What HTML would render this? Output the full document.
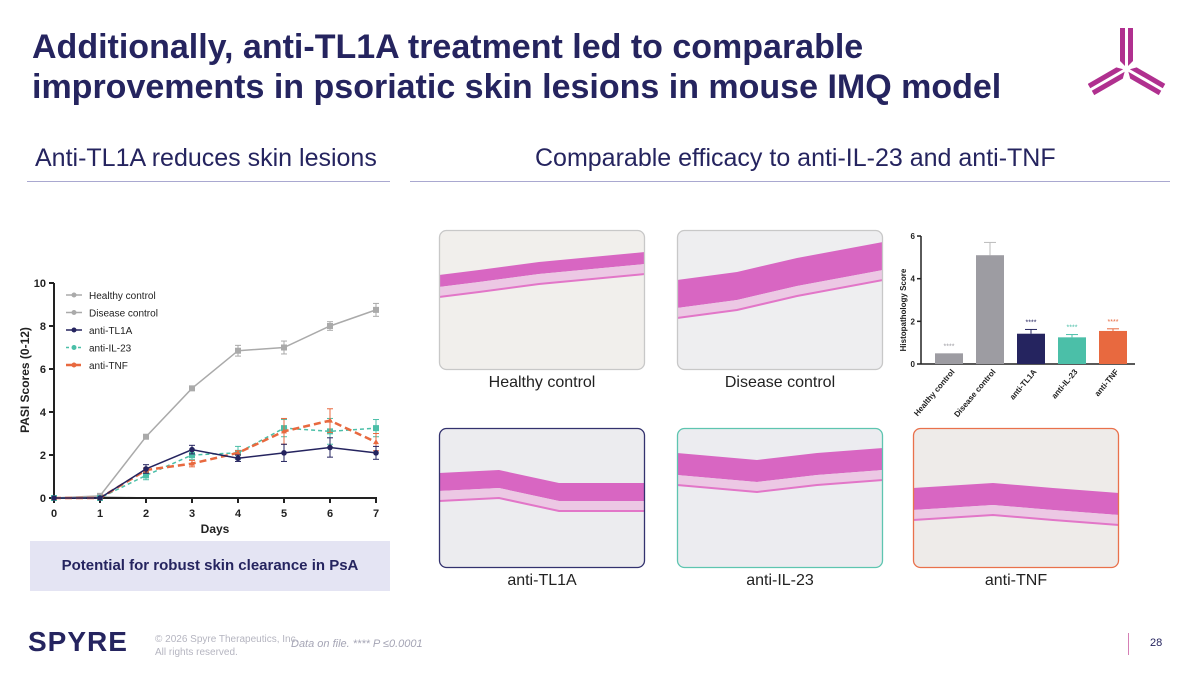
<!DOCTYPE html>
<html><head><meta charset="utf-8">
<style>
body{margin:0;background:#fff;}
#root{position:relative;width:1200px;height:675px;overflow:hidden;font-family:"Liberation Sans",sans-serif;background:#fff;}
.t{position:absolute;white-space:nowrap;}
</style></head>
<body>
<div id="root">
<div class="t" style="left:32px;top:27px;font-size:34px;font-weight:bold;color:#25245f;line-height:40px;">Additionally, anti-TL1A treatment led to comparable<br>improvements in psoriatic skin lesions in mouse IMQ model</div>
<div class="t" style="left:35px;top:144px;font-size:25px;color:#25245f;">Anti-TL1A reduces skin lesions</div>
<div class="t" style="left:535px;top:144px;font-size:25px;color:#25245f;">Comparable efficacy to anti-IL-23 and anti-TNF</div>
<div style="position:absolute;left:27px;top:181px;width:363px;height:1px;background:#a9a8d0;"></div>
<div style="position:absolute;left:410px;top:181px;width:760px;height:1px;background:#a9a8d0;"></div>

<svg style="position:absolute;left:1088px;top:22px" width="80" height="75" viewBox="0 0 80 75">
<g fill="#b0308f">
<polygon points="32,6 37,6 37,44 32,39"/><polygon points="40,6 45,6 45,39 40,44"/>
<g transform="rotate(120 38.5 47)"><polygon points="32,6 37,6 37,44 32,39"/><polygon points="40,6 45,6 45,39 40,44"/></g>
<g transform="rotate(240 38.5 47)"><polygon points="32,6 37,6 37,44 32,39"/><polygon points="40,6 45,6 45,39 40,44"/></g>
</g></svg>

<svg id="line" style="position:absolute;left:0;top:270px" width="400" height="275"></svg>

<div style="position:absolute;left:30px;top:541px;width:360px;height:50px;background:#e4e4f3;"></div>
<div class="t" style="left:30px;top:557px;width:360px;text-align:center;font-size:15px;font-weight:bold;color:#25245f;">Potential for robust skin clearance in PsA</div>

<svg id="imgs" style="position:absolute;left:0;top:0" width="1200" height="675"></svg>
<div class="t" style="left:439px;top:374px;width:206px;text-align:center;font-size:16px;color:#222;">Healthy control</div>
<div class="t" style="left:677px;top:374px;width:206px;text-align:center;font-size:16px;color:#222;">Disease control</div>
<div class="t" style="left:439px;top:572px;width:206px;text-align:center;font-size:16px;color:#222;">anti-TL1A</div>
<div class="t" style="left:677px;top:572px;width:206px;text-align:center;font-size:16px;color:#222;">anti-IL-23</div>
<div class="t" style="left:913px;top:572px;width:206px;text-align:center;font-size:16px;color:#222;">anti-TNF</div>

<svg id="bar" style="position:absolute;left:880px;top:220px" width="300" height="210"></svg>

<div class="t" style="left:28px;top:626px;font-size:28px;font-weight:bold;color:#25245f;letter-spacing:1px;">SPYRE</div>
<div class="t" style="left:155px;top:633px;font-size:10px;color:#b5b5c0;line-height:13px;">© 2026 Spyre Therapeutics, Inc.<br>All rights reserved.</div>
<div class="t" style="left:291px;top:638px;font-size:11px;color:#a5a5b5;font-style:italic;">Data on file. **** P ≤0.0001</div>
<div style="position:absolute;left:1128px;top:633px;width:1px;height:22px;background:#d57fb5;"></div>
<div class="t" style="left:1150px;top:637px;font-size:11px;color:#25245f;">28</div>
</div>

<script>
const NS="http://www.w3.org/2000/svg";
function mk(p,tag,a){const e=document.createElementNS(NS,tag);for(const k in a)e.setAttribute(k,a[k]);p.appendChild(e);return e;}

/* ---------- line chart data ---------- */
const days=[0,1,2,3,4,5,6,7];
const yTicks=[0,2,4,6,8,10];
const healthy=[0,0.05,0,0,0,0,0,0];
const disease=[0,0.1,2.85,5.1,6.85,7.0,8.0,8.75];
const diseaseErr=[0,0.05,0.1,0.1,0.25,0.3,0.2,0.3];
const tl1a=[0,0,1.35,2.25,1.85,2.1,2.35,2.1];
const tl1aErr=[0,0,0.2,0.2,0.15,0.4,0.45,0.3];
const il23=[0,0,1.05,2.0,2.1,3.25,3.1,3.25];
const il23Err=[0,0,0.2,0.2,0.3,0.4,0.6,0.4];
const tnf=[0,0,1.3,1.6,2.1,3.1,3.6,2.6];
const tnfErr=[0,0,0.1,0.15,0.1,0.6,0.55,0.4];

const L=document.getElementById('line');
const lx=d=>54+d*46, ly=v=>228-v*21.5;
let e;
function series(vals,errs,col,dash,w,shape,name,markers){
 const g=mk(L,'g',{});
 
 if(errs)vals.forEach((v,i)=>{if(errs[i]>0){
  mk(g,'line',{x1:lx(days[i]),x2:lx(days[i]),y1:ly(v-errs[i]),y2:ly(v+errs[i]),stroke:col,'stroke-width':1});
  mk(g,'line',{x1:lx(days[i])-3,x2:lx(days[i])+3,y1:ly(v+errs[i]),y2:ly(v+errs[i]),stroke:col,'stroke-width':1});
  mk(g,'line',{x1:lx(days[i])-3,x2:lx(days[i])+3,y1:ly(v-errs[i]),y2:ly(v-errs[i]),stroke:col,'stroke-width':1});}});
 mk(g,'polyline',{points:vals.map((v,i)=>lx(days[i])+','+ly(v)).join(' '),fill:'none',stroke:col,'stroke-width':w,'stroke-dasharray':dash||'none'});
 if(markers)vals.forEach((v,i)=>{
  if(shape==='sq')mk(g,'rect',{x:lx(days[i])-3,y:ly(v)-3,width:6,height:6,fill:col});
  else if(shape==='tri')mk(g,'polygon',{points:`${lx(days[i])},${ly(v)-3} ${lx(days[i])-3},${ly(v)+2} ${lx(days[i])+3},${ly(v)+2}`,fill:col});
  else mk(g,'circle',{cx:lx(days[i]),cy:ly(v),r:2.8,fill:col});
 });
}
series(healthy,null,'#aaa',null,1.5,'c','series-healthy-control',false);

e=mk(L,'line',{x1:54,y1:ly(0),x2:54,y2:ly(10),stroke:'#222','stroke-width':2});

e=mk(L,'line',{x1:54,y1:ly(0),x2:377,y2:ly(0),stroke:'#222','stroke-width':2});

yTicks.forEach(t=>{
 mk(L,'line',{x1:49,x2:54,y1:ly(t),y2:ly(t),stroke:'#222','stroke-width':2});
 e=mk(L,'text',{x:46,y:ly(t)+4,'text-anchor':'end','font-size':11,'font-weight':'bold',fill:'#222'});e.textContent=t;
 
});
days.forEach(d=>{
 mk(L,'line',{x1:lx(d),x2:lx(d),y1:ly(0),y2:ly(0)+5,stroke:'#222','stroke-width':2});
 e=mk(L,'text',{x:lx(d),y:ly(0)+19,'text-anchor':'middle','font-size':11,'font-weight':'bold',fill:'#222'});e.textContent=d;
 
});
e=mk(L,'text',{x:215,y:263,'text-anchor':'middle','font-size':12,'font-weight':'bold',fill:'#222'});e.textContent='Days';

e=mk(L,'text',{x:0,y:0,transform:'translate(29,110) rotate(-90)','text-anchor':'middle','font-size':12,'font-weight':'bold',fill:'#222'});e.textContent='PASI Scores (0-12)';


series(disease,diseaseErr,'#aaa',null,1.5,'sq','series-disease-control',true);
series(il23,il23Err,'#4bbfa8','4,3',1.5,'sq','series-anti-il23',true);
series(tnf,tnfErr,'#e8693f','7,4',2.5,'tri','series-anti-tnf',true);
series(tl1a,tl1aErr,'#25245f',null,1.5,'c','series-anti-tl1a',true);

const legNames=['Healthy control','Disease control','anti-TL1A','anti-IL-23','anti-TNF'];
const legCols=['#aaa','#aaa','#25245f','#4bbfa8','#e8693f'];
const legDash=['none','none','none','3,3','6,3'];
legNames.forEach((n,i)=>{
 const y=25+i*17.5;const g=mk(L,'g',{});
 
 mk(g,'line',{x1:66,x2:82,y1:y,y2:y,stroke:legCols[i],'stroke-width':i==4?2.5:1.5,'stroke-dasharray':legDash[i]});
 mk(g,'circle',{cx:74,cy:y,r:2.5,fill:legCols[i]});
 const t=mk(g,'text',{x:89,y:y+4,'font-size':10,fill:'#222'});t.textContent=n;
});

/* ---------- histology images ---------- */
const I=document.getElementById('imgs');
const panels=[[439,230,'#c8c8c8','#f1efec',[[0,45],[40,40],[100,32],[206,22]],12,'image-healthy-control'],
 [677,230,'#c8c8c8','#eeeef0',[[0,50],[60,42],[120,28],[206,12]],28,'image-disease-control'],
 [439,428,'#33326e','#ececef',[[0,45],[60,42],[120,55],[206,55]],18,'image-anti-tl1a'],
 [677,428,'#5ec5b0','#ececf0',[[0,25],[80,32],[140,25],[206,20]],22,'image-anti-il23'],
 [913,428,'#e9714c','#eeebe9',[[0,60],[80,55],[140,60],[206,65]],22,'image-anti-tnf']];
panels.forEach((p,k)=>{
 const [x,y,b,bg,pts,th,name]=p;const g=mk(I,'g',{transform:`translate(${x},${y})`});
 
 const cp=mk(g,'clipPath',{id:'cp'+k});mk(cp,'rect',{x:0,y:0,width:206,height:140,rx:7});
 mk(g,'rect',{x:0.5,y:0.5,width:205,height:139,rx:7,fill:bg});
 const inner=mk(g,'g',{'clip-path':`url(#cp${k})`});
 const top=pts.map(q=>q[0]+','+q[1]).join(' ');
 const bot=pts.slice().reverse().map(q=>q[0]+','+(q[1]+th)).join(' ');
 mk(inner,'polygon',{points:top+' '+bot,fill:'#d866c2'});
 const low=pts.map(q=>q[0]+','+(q[1]+th)).join(' ');
 const low2=pts.slice().reverse().map(q=>q[0]+','+(q[1]+th+10)).join(' ');
 mk(inner,'polygon',{points:low+' '+low2,fill:'#ecc8e4'});
 mk(inner,'polyline',{points:pts.map(q=>q[0]+','+(q[1]+th+10)).join(' '),fill:'none',stroke:'#e276c8','stroke-width':2});
 mk(g,'rect',{x:0.5,y:0.5,width:205,height:139,rx:7,fill:'none',stroke:b,'stroke-width':1.3});
});

/* ---------- bar chart ---------- */
const groups=['Healthy control','Disease control','anti-TL1A','anti-IL-23','anti-TNF'];
const scores=[0.5,5.1,1.42,1.25,1.55];
const scoreErr=[0,0.6,0.2,0.13,0.1];
const sig=['****','','****','****','****'];
const barTicks=[0,2,4,6];
const barCols=['#9d9ca2','#9d9ca2','#25245f','#4bbfa8','#e8693f'];
const B=document.getElementById('bar');
const bx=i=>69+i*41, by=v=>144-v*21.33;
e=mk(B,'line',{x1:41,x2:41,y1:by(0),y2:by(6),stroke:'#222','stroke-width':1.5});

e=mk(B,'line',{x1:41,x2:255,y1:by(0),y2:by(0),stroke:'#222','stroke-width':1.5});

barTicks.forEach(t=>{mk(B,'line',{x1:37,x2:41,y1:by(t),y2:by(t),stroke:'#222','stroke-width':1.5});
 e=mk(B,'text',{x:35,y:by(t)+3,'text-anchor':'end','font-size':8,'font-weight':'bold',fill:'#222'});e.textContent=t;
 });
e=mk(B,'text',{transform:'translate(26,90) rotate(-90)','text-anchor':'middle','font-size':8,'font-weight':'bold',fill:'#222'});e.textContent='Histopathology Score';

groups.forEach((gname,i)=>{
 const c=bx(i);
 if(scoreErr[i]>0){mk(B,'line',{x1:c,x2:c,y1:by(scores[i]),y2:by(scores[i]+scoreErr[i]),stroke:barCols[i]==='#9d9ca2'?'#bbb':barCols[i],'stroke-width':1});
  mk(B,'line',{x1:c-6,x2:c+6,y1:by(scores[i]+scoreErr[i]),y2:by(scores[i]+scoreErr[i]),stroke:barCols[i]==='#9d9ca2'?'#bbb':barCols[i],'stroke-width':1});}
 e=mk(B,'rect',{x:c-14,y:by(scores[i]),width:28,height:by(0)-by(scores[i]),fill:barCols[i]});
 
 if(sig[i]){e=mk(B,'text',{x:c,y:by(scores[i]+scoreErr[i])-5,'text-anchor':'middle','font-size':7,fill:barCols[i]});e.textContent=sig[i];
  }
 e=mk(B,'text',{transform:`translate(${c+6},${by(0)+8}) rotate(-50)`,'text-anchor':'end','font-size':8,'font-weight':'bold',fill:'#222'});e.textContent=gname;
 
});
</script>
</body></html>
